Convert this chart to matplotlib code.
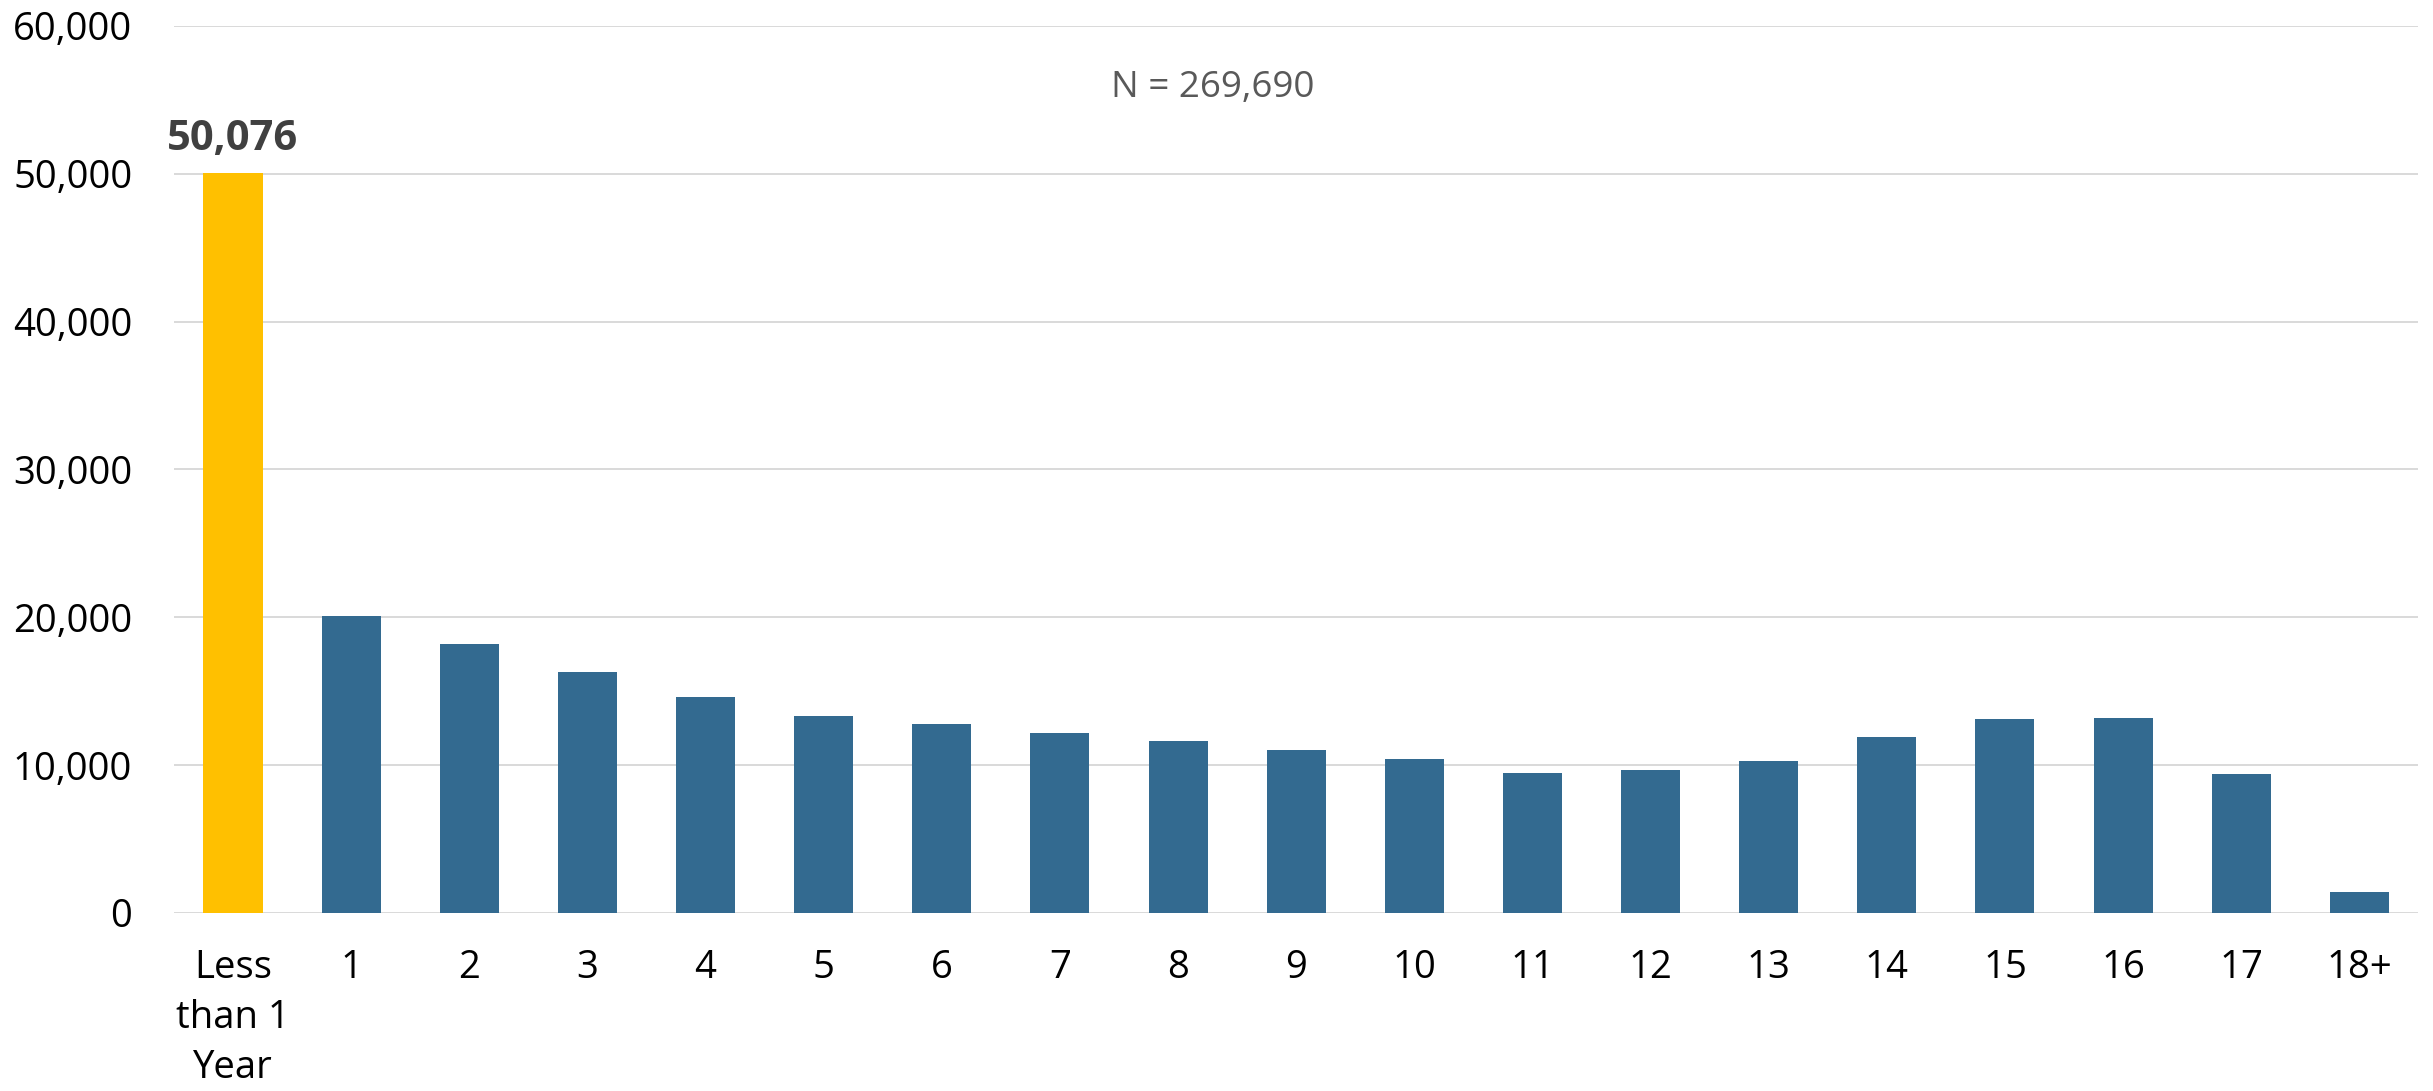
import matplotlib.pyplot as plt
from matplotlib.ticker import FuncFormatter

plt.rcParams['font.family'] = ['Open Sans', 'DejaVu Sans']

# Data
categories = ['Less\nthan 1\nYear', '1', '2', '3', '4', '5', '6', '7', '8', '9',
              '10', '11', '12', '13', '14', '15', '16', '17', '18+']
counts = [50076, 20100, 18200, 16300, 14600, 13300, 12800, 12200, 11600, 11000,
          10400, 9500, 9700, 10300, 11900, 13100, 13200, 9400, 1400]
highlight = 0
total_label = 'N = 269,690'

fig = plt.figure(figsize=(24.33, 10.91), dpi=100)
ax = fig.add_axes([0.0715, 0.1632, 0.9225, 0.8130])

colors = ['#FFC000' if i == highlight else '#336A90' for i in range(len(counts))]
x = list(range(len(counts)))
ax.bar(x, counts, width=0.5, color=colors, zorder=3)

ax.set_xlim(-0.5, len(counts) - 0.5)
ax.set_ylim(0, 60000)
ax.set_yticks(range(0, 60001, 10000))
ax.yaxis.set_major_formatter(FuncFormatter(lambda v, p: f'{int(v):,}'))
ax.set_xticks(x)
ax.set_xticklabels(categories, linespacing=1.42)

ax.grid(axis='y', color='#d9d9d9', linewidth=1.4, zorder=0)
for s in ax.spines.values():
    s.set_visible(False)
ax.tick_params(axis='both', length=0, labelsize=27.5, colors='black')
ax.tick_params(axis='x', pad=26)
ax.tick_params(axis='y', pad=30)

# highlight value label
ax.annotate(f'{counts[highlight]:,}', (highlight, counts[highlight]),
            xytext=(0, 9), textcoords='offset points', ha='center', va='bottom',
            fontsize=30, fontweight='bold', color='#404040')

ax.text(0.463, 0.93, total_label, transform=ax.transAxes, ha='center', va='center',
        fontsize=26.5, color='#595959')

fig.savefig('out.png', dpi=100)
